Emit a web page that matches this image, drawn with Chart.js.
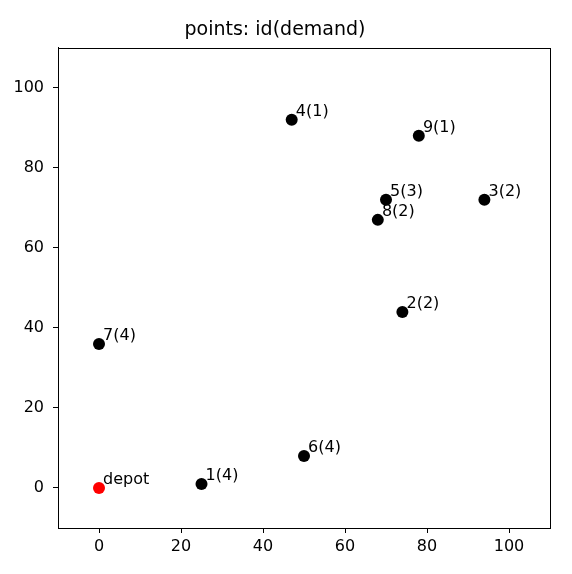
<!DOCTYPE html>
<html>
<head>
<meta charset="utf-8">
<title>points: id(demand)</title>
<style>
  html, body { margin: 0; padding: 0; background: #fff; }
  .wrap { width: 572px; height: 574px; }
</style>
</head>
<body>
<div class="wrap"><canvas id="myChart" width="572" height="574"></canvas></div>
<script src="https://cdn.jsdelivr.net/npm/chart.js"></script>
<script>
// customer points
const ids     = [1, 2, 3, 4, 5, 6, 7, 8, 9];
const xs      = [25, 74, 94, 47, 70, 50, 0, 68, 78];
const ys      = [1, 44, 72, 92, 72, 8, 36, 67, 88];
const demands = [4, 2, 2, 1, 3, 4, 4, 2, 1];

const depotX = [0];
const depotY = [0];

const xTicks = [0, 20, 40, 60, 80, 100];
const yTicks = [0, 20, 40, 60, 80, 100];

const FONT = "'DejaVu Sans', sans-serif";

const customers = xs.map((x, i) => ({ x: x, y: ys[i], label: ids[i] + '(' + demands[i] + ')' }));
const depot = depotX.map((x, i) => ({ x: x, y: depotY[i], label: 'depot' }));

// text next to every point, plus the box round the plot
const annotate = {
  id: 'annotate',
  afterDatasetsDraw(chart) {
    const ctx = chart.ctx;
    const xs_ = chart.scales.x, ys_ = chart.scales.y;
    ctx.save();
    ctx.font = '16px ' + FONT;
    ctx.fillStyle = '#000';
    ctx.textAlign = 'left';
    ctx.textBaseline = 'alphabetic';
    chart.data.datasets.forEach(ds => {
      ds.data.forEach(p => {
        ctx.fillText(p.label, xs_.getPixelForValue(p.x + 1), ys_.getPixelForValue(p.y + 1));
      });
    });
    const a = chart.chartArea;
    ctx.strokeStyle = '#000';
    ctx.lineWidth = 1;
    ctx.strokeRect(Math.round(a.left) + 0.5, Math.round(a.top) + 0.5,
                   Math.round(a.right - a.left), Math.round(a.bottom - a.top));
    ctx.restore();
  }
};

const ctx = document.getElementById('myChart');
new Chart(ctx, {
  type: 'scatter',
  data: {
    datasets: [
      {
        label: 'customers',
        data: customers,
        backgroundColor: '#000000',
        borderColor: '#000000',
        pointRadius: 6,
        pointHoverRadius: 6,
        borderWidth: 0
      },
      {
        label: 'depot',
        data: depot,
        backgroundColor: '#ff0000',
        borderColor: '#ff0000',
        pointRadius: 6,
        pointHoverRadius: 6,
        borderWidth: 0
      }
    ]
  },
  options: {
    responsive: false,
    animation: false,
    devicePixelRatio: 1,
    layout: { padding: { left: 0, right: 22, top: 0, bottom: 0 } },
    plugins: {
      legend: { display: false },
      tooltip: { enabled: false },
      title: {
        display: true,
        text: 'points: id(demand)',
        color: '#000',
        font: { family: FONT, size: 19, weight: 'normal' },
        padding: { top: 19, bottom: 6 }
      }
    },
    scales: {
      x: {
        type: 'linear',
        min: -10,
        max: 110,
        afterBuildTicks: s => { s.ticks = xTicks.map(v => ({ value: v })); },
        afterFit: s => { s.height = 46; },
        grid: { display: true, drawOnChartArea: false, drawTicks: true, tickLength: 5, tickColor: '#000' },
        border: { display: true, color: '#000' },
        ticks: { color: '#000', font: { family: FONT, size: 16 }, padding: 4, maxRotation: 0 }
      },
      y: {
        type: 'linear',
        min: -10,
        max: 110,
        afterBuildTicks: s => { s.ticks = yTicks.map(v => ({ value: v })); },
        afterFit: s => { s.width = 58; },
        grid: { display: true, drawOnChartArea: false, drawTicks: true, tickLength: 5, tickColor: '#000' },
        border: { display: true, color: '#000' },
        ticks: { color: '#000', font: { family: FONT, size: 16 }, padding: 9 }
      }
    }
  },
  plugins: [annotate]
});
</script>
</body>
</html>
